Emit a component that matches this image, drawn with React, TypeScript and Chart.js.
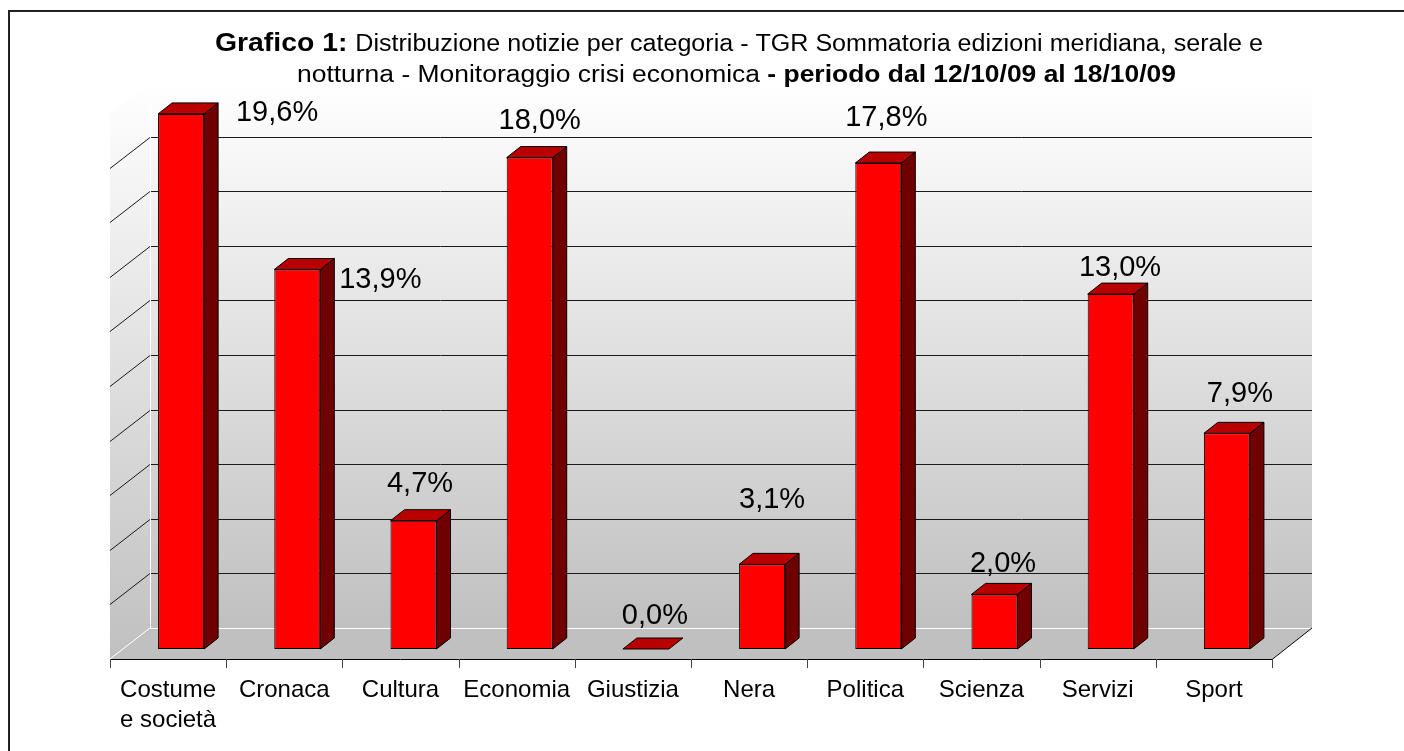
import React, { useEffect, useRef } from "react";
import { Chart, registerables } from "chart.js";

Chart.register(...registerables);

// ---- data ----
const categories: string[][] = [
  ["Costume", "e società"],
  ["Cronaca"],
  ["Cultura"],
  ["Economia"],
  ["Giustizia"],
  ["Nera"],
  ["Politica"],
  ["Scienza"],
  ["Servizi"],
  ["Sport"],
];
const values: number[] = [19.6, 13.9, 4.7, 18.0, 0.0, 3.1, 17.8, 2.0, 13.0, 7.9];
const valueLabels: string[] = ["19,6%", "13,9%", "4,7%", "18,0%", "0,0%", "3,1%", "17,8%", "2,0%", "13,0%", "7,9%"];
const gridValues: number[] = [2, 4, 6, 8, 10, 12, 14, 16, 18];
const axisMin = 0;
const axisMax = 20;

const titleLine1 = [
  { text: "Grafico 1: ", bold: true },
  { text: "Distribuzione notizie per categoria - TGR Sommatoria edizioni meridiana, serale e", bold: false },
];
const titleLine2 = [
  { text: "notturna - Monitoraggio crisi economica ", bold: false },
  { text: "- periodo dal 12/10/09 al 18/10/09", bold: true },
];

// ---- layout / style (not data) ----
const labelOffsets: number[][] = [
  [96, 7], [83, 18.5], [6.5, -29], [10, -29], [9, -25],
  [10, -56], [8, -37], [8.5, -22], [9.3, -18], [13, -31],
];
const FONT = '"Liberation Sans", Arial, sans-serif';
const BAR_DX = 14, BAR_DY = -11; // bar depth
const WALL_DX = 27, WALL_DY = -21; // bar front plane -> back wall
const FRONT_DX = -13, FRONT_DY = 10; // bar front plane -> floor front edge

function drawRich(ctx: CanvasRenderingContext2D, parts: { text: string; bold: boolean }[], x0: number, x1: number, baseline: number, boldSize: number) {
  const fontFor = (b: boolean) => (b ? `bold ${boldSize}px ${FONT}` : `23px ${FONT}`);
  let total = 0;
  for (const p of parts) {
    ctx.font = fontFor(p.bold);
    total += ctx.measureText(p.text).width;
  }
  const sx = (x1 - x0) / total;
  ctx.save();
  ctx.translate(x0, baseline);
  ctx.scale(sx, 1);
  let x = 0;
  ctx.textAlign = "left";
  ctx.textBaseline = "alphabetic";
  ctx.fillStyle = "#000";
  for (const p of parts) {
    ctx.font = fontFor(p.bold);
    ctx.fillText(p.text, x, 0);
    x += ctx.measureText(p.text).width;
  }
  ctx.restore();
}

const bar3dPlugin = {
  id: "bar3d",
  beforeDatasetsDraw(chart: any) {
    const ctx: CanvasRenderingContext2D = chart.ctx;
    const xs = chart.scales.x;
    const ys = chart.scales.y;
    const L = chart.chartArea.left;
    const R = chart.chartArea.right;
    const y0 = ys.getPixelForValue(axisMin);
    const yT = ys.getPixelForValue(axisMax);
    ctx.save();
    // back wall
    const g = ctx.createLinearGradient(0, yT + WALL_DY, 0, y0 + WALL_DY);
    g.addColorStop(0, "#ffffff");
    g.addColorStop(0.05, "#fcfcfc");
    g.addColorStop(1, "#c0c0c0");
    ctx.fillStyle = g;
    ctx.fillRect(L + WALL_DX, yT + WALL_DY, R - L, y0 - yT);
    // side wall
    const g2 = ctx.createLinearGradient(0, yT + WALL_DY, 0, y0 + FRONT_DY);
    g2.addColorStop(0, "#ffffff");
    g2.addColorStop(0.05, "#fcfcfc");
    g2.addColorStop(1, "#c0c0c0");
    ctx.fillStyle = g2;
    ctx.beginPath();
    ctx.moveTo(L + WALL_DX, yT + WALL_DY);
    ctx.lineTo(L + FRONT_DX, yT + FRONT_DY);
    ctx.lineTo(L + FRONT_DX, y0 + FRONT_DY);
    ctx.lineTo(L + WALL_DX, y0 + WALL_DY);
    ctx.closePath();
    ctx.fill();
    // floor
    ctx.fillStyle = "#c0c0c0";
    ctx.beginPath();
    ctx.moveTo(L + FRONT_DX, y0 + FRONT_DY);
    ctx.lineTo(R + FRONT_DX, y0 + FRONT_DY);
    ctx.lineTo(R + WALL_DX, y0 + WALL_DY);
    ctx.lineTo(L + WALL_DX, y0 + WALL_DY);
    ctx.closePath();
    ctx.fill();
    // gridlines
    ctx.strokeStyle = "#1a1a1a";
    ctx.lineWidth = 1;
    for (const v of gridValues) {
      const y = Math.round(ys.getPixelForValue(v) + WALL_DY) + 0.5;
      ctx.beginPath();
      ctx.moveTo(L + WALL_DX, y);
      ctx.lineTo(R + WALL_DX, y);
      ctx.stroke();
      ctx.beginPath();
      ctx.moveTo(L + WALL_DX, y);
      ctx.lineTo(L + FRONT_DX, y + (FRONT_DY - WALL_DY));
      ctx.stroke();
    }
    // white edges
    ctx.strokeStyle = "#ffffff";
    ctx.beginPath();
    ctx.moveTo(L + WALL_DX + 0.5, yT + WALL_DY);
    ctx.lineTo(L + WALL_DX + 0.5, y0 + WALL_DY + 0.5);
    ctx.lineTo(R + WALL_DX, y0 + WALL_DY + 0.5);
    ctx.stroke();
    ctx.beginPath();
    ctx.moveTo(L + WALL_DX, y0 + WALL_DY);
    ctx.lineTo(L + FRONT_DX, y0 + FRONT_DY);
    ctx.stroke();
    // black floor edges
    ctx.strokeStyle = "#000";
    ctx.beginPath();
    ctx.moveTo(L + FRONT_DX, Math.round(y0 + FRONT_DY) + 0.5);
    ctx.lineTo(R + FRONT_DX, Math.round(y0 + FRONT_DY) + 0.5);
    ctx.lineTo(R + WALL_DX, y0 + WALL_DY);
    ctx.stroke();
    // ticks
    ctx.strokeStyle = "#444";
    const band = (R - L) / categories.length;
    for (let k = 0; k <= categories.length; k++) {
      const x = Math.round(xs.getPixelForValue(Math.min(k, categories.length - 1)) + (k === categories.length ? band / 2 : -band / 2) + FRONT_DX) + 0.5;
      ctx.beginPath();
      ctx.moveTo(x, y0 + FRONT_DY);
      ctx.lineTo(x, y0 + FRONT_DY + 9);
      ctx.stroke();
    }
    // category labels
    ctx.fillStyle = "#000";
    ctx.font = `24px ${FONT}`;
    ctx.textAlign = "center";
    ctx.textBaseline = "alphabetic";
    categories.forEach((lines, i) => {
      const x = xs.getPixelForValue(i) + FRONT_DX;
      lines.forEach((ln, j) => ctx.fillText(ln, x, y0 + 48 + j * 30));
    });
    ctx.restore();
  },
  afterDatasetsDraw(chart: any) {
    const ctx: CanvasRenderingContext2D = chart.ctx;
    const meta = chart.getDatasetMeta(0);
    const ys = chart.scales.y;
    const xs = chart.scales.x;
    ctx.save();
    ctx.lineWidth = 1;
    ctx.strokeStyle = "#000";
    ctx.lineJoin = "round";
    meta.data.forEach((el: any) => {
      const w = el.width;
      const Lx = el.x - w / 2;
      const Rx = el.x + w / 2;
      const T = el.y;
      const B = el.base;
      // side
      if (B - T > 0.5) {
        ctx.fillStyle = "#700000";
        ctx.beginPath();
        ctx.moveTo(Rx, T);
        ctx.lineTo(Rx + BAR_DX, T + BAR_DY);
        ctx.lineTo(Rx + BAR_DX, B + BAR_DY);
        ctx.lineTo(Rx, B);
        ctx.closePath();
        ctx.fill();
        ctx.stroke();
      }
      // top
      ctx.fillStyle = "#b80000";
      ctx.beginPath();
      ctx.moveTo(Lx, T);
      ctx.lineTo(Rx, T);
      ctx.lineTo(Rx + BAR_DX, T + BAR_DY);
      ctx.lineTo(Lx + BAR_DX, T + BAR_DY);
      ctx.closePath();
      ctx.fill();
      ctx.stroke();
    });
    // value labels
    ctx.fillStyle = "#000";
    ctx.font = `29px ${FONT}`;
    ctx.textAlign = "center";
    ctx.textBaseline = "alphabetic";
    values.forEach((v, i) => {
      const x = xs.getPixelForValue(i) + labelOffsets[i][0];
      const y = ys.getPixelForValue(v) + labelOffsets[i][1];
      ctx.fillText(valueLabels[i], x, y);
    });
    ctx.restore();
  },
  afterDraw(chart: any) {
    const ctx: CanvasRenderingContext2D = chart.ctx;
    ctx.save();
    drawRich(ctx, titleLine1, 215, 1263, 51, 26);
    drawRich(ctx, titleLine2, 297, 1176, 82, 23);
    ctx.strokeStyle = "#222";
    ctx.lineWidth = 2;
    ctx.beginPath();
    ctx.moveTo(9, 760);
    ctx.lineTo(9, 11);
    ctx.lineTo(1410, 11);
    ctx.stroke();
    ctx.restore();
  },
};

export default function App() {
  const ref = useRef<HTMLCanvasElement | null>(null);
  useEffect(() => {
    if (!ref.current) return;
    const chart = new Chart(ref.current, {
      type: "bar",
      data: {
        labels: categories.map((c) => c.join(" ")),
        datasets: [
          {
            data: values,
            backgroundColor: "#ff0000",
            borderColor: "#000000",
            borderWidth: 1,
            borderSkipped: false,
            barPercentage: 0.396,
            categoryPercentage: 1,
          },
        ],
      },
      options: {
        animation: false,
        responsive: true,
        maintainAspectRatio: false,
        devicePixelRatio: 1,
        layout: { padding: { left: 123, right: 119, top: 103, bottom: 102 } },
        plugins: { legend: { display: false }, title: { display: false }, tooltip: { enabled: false } },
        scales: {
          x: { display: false, offset: true, grid: { display: false } },
          y: { display: false, min: axisMin, max: axisMax, ticks: { stepSize: 2 } },
        },
      },
      plugins: [bar3dPlugin],
    });
    return () => chart.destroy();
  }, []);
  return (
    <div style={{ position: "fixed", left: 0, top: 0, width: 1404, height: 751, background: "#fff" }}>
      <canvas ref={ref} />
    </div>
  );
}
